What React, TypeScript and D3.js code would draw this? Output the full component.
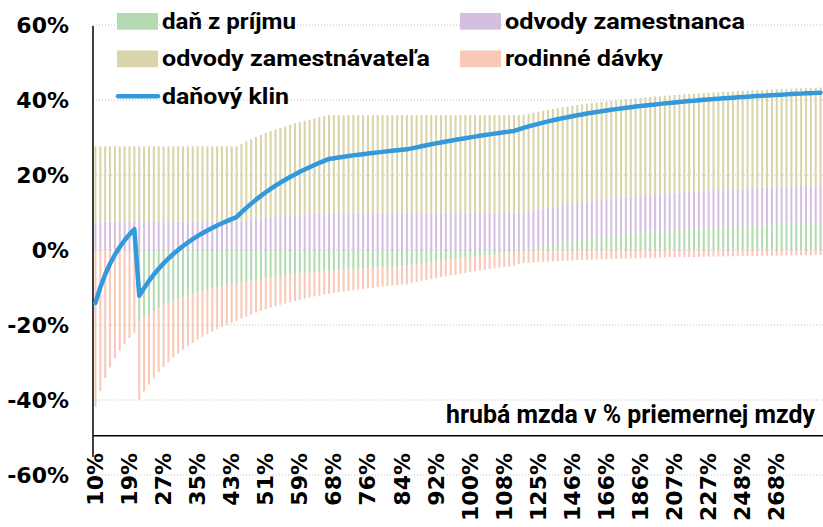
import React from "react";
import * as d3 from "d3";

// gross wage grid (EUR) and average wage used for the x categories
const wageEUR: number[] = [...d3.range(90, 960, 10), ...d3.range(975, 2550, 25)];
const averageWage = 858;
const categories: string[] = wageEUR.map((w) => Math.round((w / averageWage) * 100) + "%");
const xTickLabels: string[] = [
  "10%", "19%", "27%", "35%", "43%", "51%", "59%", "68%", "76%", "84%", "92%",
  "100%", "108%", "125%", "146%", "166%", "186%", "207%", "227%", "248%", "268%",
];
const tickEvery = 7;

// series values in % of total labour cost
const incomeTax: number[] = [
  0, 0, 0, 0, 0, 0, 0, 0, 0,
  -19.0, -18.0, -17.1, -16.29, -15.55, -14.87, -14.25, -13.68, -13.15, -12.67,
  -12.21, -11.79, -11.4, -11.03, -10.69, -10.36, -10.06, -9.77, -9.5, -9.24, -9.0,
  -8.72, -8.45, -8.2, -7.96, -7.74, -7.53, -7.33, -7.14, -6.96, -6.79,
  -6.62, -6.47, -6.32, -6.18, -6.04, -5.91, -5.79, -5.67,
  -5.56, -5.46, -5.37, -5.28, -5.19, -5.11, -5.03, -4.95, -4.87, -4.8,
  -4.73, -4.66, -4.59, -4.53, -4.46, -4.4, -4.34,
  -4.15, -3.93, -3.72, -3.51, -3.31, -3.12, -2.92, -2.74, -2.56, -2.38,
  -2.21, -2.04, -1.87, -1.71, -1.55, -1.4, -1.25, -1.1, -0.96, -0.81, -0.68, -0.54,
  -0.22, 0.1, 0.39, 0.67, 0.94, 1.19, 1.44, 1.67, 1.89, 2.11,
  2.31, 2.51, 2.7, 2.88, 3.06, 3.23, 3.39, 3.55, 3.7, 3.84,
  3.98, 4.12, 4.25, 4.38, 4.5, 4.62, 4.74, 4.85, 4.96, 5.07,
  5.17, 5.27, 5.37, 5.46, 5.55, 5.64, 5.73, 5.82,
  5.9, 5.98, 6.06, 6.13, 6.21, 6.28, 6.35, 6.42, 6.49, 6.55,
  6.62, 6.68, 6.74, 6.8, 6.86, 6.92, 6.98, 7.03, 7.09, 7.14,
  7.19, 7.24, 7.29, 7.34, 7.39,
];

const employeeContrib: number[] = [
  7.51, 7.51, 7.51, 7.51, 7.51, 7.51, 7.51, 7.51, 7.51, 7.51,
  7.51, 7.51, 7.51, 7.51, 7.51, 7.51, 7.51, 7.51, 7.51, 7.51,
  7.51, 7.51, 7.51, 7.51, 7.51, 7.51, 7.51, 7.51, 7.51, 7.51,
  7.71, 7.89, 8.07, 8.23, 8.39, 8.54, 8.68, 8.81, 8.93, 9.05,
  9.17, 9.27, 9.38, 9.48, 9.57, 9.66, 9.75, 9.83,
  9.91, 9.91, 9.91, 9.91, 9.91, 9.91, 9.91, 9.91, 9.91, 9.91,
  9.91, 9.91, 9.91, 9.91, 9.91, 9.91, 9.91, 9.91, 9.91, 9.91,
  9.91, 9.91, 9.91, 9.91, 9.91, 9.91, 9.91, 9.91, 9.91, 9.91,
  9.91, 9.91, 9.91, 9.91, 9.91, 9.91, 9.91, 9.91, 9.91, 9.91,
  9.91, 9.91, 9.91, 9.91, 9.91, 9.91, 9.91, 9.91, 9.91, 9.91,
  9.91, 9.91, 9.91, 9.91, 9.91, 9.91, 9.91, 9.91, 9.91, 9.91,
  9.91, 9.91, 9.91, 9.91, 9.91, 9.91, 9.91, 9.91, 9.91, 9.91,
  9.91, 9.91, 9.91, 9.91, 9.91, 9.91, 9.91, 9.91, 9.91, 9.91,
  9.91, 9.91, 9.91, 9.91, 9.91, 9.91, 9.91, 9.91, 9.91, 9.91,
  9.91, 9.91, 9.91, 9.91, 9.91, 9.91, 9.91, 9.91, 9.91, 9.91,
  9.91, 9.91,
];

const employerContrib: number[] = [
  20.13, 20.13, 20.13, 20.13, 20.13, 20.13, 20.13, 20.13, 20.13, 20.13,
  20.13, 20.13, 20.13, 20.13, 20.13, 20.13, 20.13, 20.13, 20.13, 20.13,
  20.13, 20.13, 20.13, 20.13, 20.13, 20.13, 20.13, 20.13, 20.13, 20.13,
  20.62, 21.07, 21.5, 21.91, 22.29, 22.66, 23.0, 23.32, 23.63, 23.93,
  24.2, 24.47, 24.73, 24.97, 25.2, 25.42, 25.64, 25.84,
  26.04, 26.04, 26.04, 26.04, 26.04, 26.04, 26.04, 26.04, 26.04, 26.04,
  26.04, 26.04, 26.04, 26.04, 26.04, 26.04, 26.04, 26.04, 26.04, 26.04,
  26.04, 26.04, 26.04, 26.04, 26.04, 26.04, 26.04, 26.04, 26.04, 26.04,
  26.04, 26.04, 26.04, 26.04, 26.04, 26.04, 26.04, 26.04, 26.04, 26.04,
  26.04, 26.04, 26.04, 26.04, 26.04, 26.04, 26.04, 26.04, 26.04, 26.04,
  26.04, 26.04, 26.04, 26.04, 26.04, 26.04, 26.04, 26.04, 26.04, 26.04,
  26.04, 26.04, 26.04, 26.04, 26.04, 26.04, 26.04, 26.04, 26.04, 26.04,
  26.04, 26.04, 26.04, 26.04, 26.04, 26.04, 26.04, 26.04, 26.04, 26.04,
  26.04, 26.04, 26.04, 26.04, 26.04, 26.04, 26.04, 26.04, 26.04, 26.04,
  26.04, 26.04, 26.04, 26.04, 26.04, 26.04, 26.04, 26.04, 26.04, 26.04,
  26.04, 26.04,
];

const familyBenefits: number[] = [
  -41.75, -37.57, -34.16, -31.31, -28.9, -26.84, -25.05, -23.48, -22.1, -20.87,
  -19.77, -18.79, -17.89, -17.08, -16.34, -15.66, -15.03, -14.45, -13.92, -13.42,
  -12.96, -12.52, -12.12, -11.74, -11.39, -11.05, -10.73, -10.44, -10.15, -9.89,
  -9.58, -9.28, -9.01, -8.75, -8.5, -8.27, -8.05, -7.84, -7.64, -7.46,
  -7.28, -7.11, -6.94, -6.79, -6.64, -6.5, -6.36, -6.23,
  -6.1, -6.0, -5.9, -5.8, -5.7, -5.61, -5.52, -5.44, -5.35, -5.27,
  -5.19, -5.12, -5.04, -4.97, -4.9, -4.83, -4.77, -4.7, -4.64, -4.58,
  -4.52, -4.46, -4.4, -4.35, -4.3, -4.24, -4.19, -4.14, -4.09, -4.05,
  -4.0, -3.95, -3.91, -3.87, -3.82, -3.78, -3.74, -3.7, -3.66,
  -3.57, -3.48, -3.39, -3.31, -3.24, -3.16, -3.09, -3.03, -2.96, -2.9,
  -2.84, -2.78, -2.73, -2.68, -2.63, -2.58, -2.53, -2.49, -2.44, -2.4,
  -2.36, -2.32, -2.28, -2.25, -2.21, -2.18, -2.14, -2.11, -2.08, -2.05,
  -2.02, -1.99, -1.96, -1.93, -1.91, -1.88, -1.86, -1.83, -1.81, -1.78,
  -1.76, -1.74, -1.72, -1.7, -1.68, -1.66, -1.64, -1.62, -1.6, -1.58,
  -1.56, -1.55, -1.53, -1.51, -1.5, -1.48, -1.47, -1.45, -1.44, -1.42,
  -1.41, -1.39, -1.38,
];

const yTicks: number[] = [-60, -40, -20, 0, 20, 40, 60];

const seriesKeys = ["tax", "employee", "employer", "benefits"];
const seriesColors: Record<string, string> = {
  tax: "#b3dab0",
  employee: "#d5bfe0",
  employer: "#d9d4aa",
  benefits: "#f9c9b8",
};
const lineColor = "#3399dd";

const legendItems = [
  { key: "tax", label: "daň z príjmu", col: 0, row: 0, len: 134 },
  { key: "employee", label: "odvody zamestnanca", col: 1, row: 0, len: 240 },
  { key: "employer", label: "odvody zamestnávateľa", col: 0, row: 1, len: 268 },
  { key: "benefits", label: "rodinné dávky", col: 1, row: 1, len: 158 },
  { key: "line", label: "daňový klin", col: 0, row: 2, len: 127 },
];

const axisTitle = "hrubá mzda v % priemernej mzdy";

export default function App() {
  const width = 823;
  const height = 527;
  const left = 93;
  const right = 823;
  const N = categories.length;

  const x = d3
    .scaleBand<number>()
    .domain(d3.range(N))
    .range([left, right])
    .paddingInner(0.58)
    .paddingOuter(0.29);
  const y = d3.scaleLinear().domain([-60, 60]).range([475, 25]);

  const rows = d3.range(N).map((i) => ({
    i,
    tax: incomeTax[i],
    employee: employeeContrib[i],
    employer: employerContrib[i],
    benefits: familyBenefits[i],
  }));
  const stacked = d3
    .stack<any>()
    .keys(seriesKeys)
    .offset(d3.stackOffsetDiverging)(rows);

  const wedge = rows.map((r) => r.tax + r.employee + r.employer + r.benefits);
  const cx = (i: number) => (x(i) as number) + x.bandwidth() / 2;
  const linePath = d3
    .line<number>()
    .x((_, i) => cx(i))
    .y((d) => y(d))(wedge) as string;

  const xAxisY = y(-49.5);
  const tickFont = "'DejaVu Sans', sans-serif";
  const textFont = "Roboto, 'Liberation Sans', sans-serif";

  return (
    <svg
      width={width}
      height={height}
      style={{ position: "absolute", left: 0, top: 0, background: "#fff" }}
    >
      {/* bars */}
      {stacked.map((s) => (
        <g key={s.key} fill={seriesColors[s.key]}>
          {s.map((d, i) => {
            const y0 = y(d[0]);
            const y1 = y(d[1]);
            return (
              <rect
                key={i}
                x={x(i)}
                width={x.bandwidth()}
                y={Math.min(y0, y1)}
                height={Math.abs(y0 - y1)}
              />
            );
          })}
        </g>
      ))}

      {/* grid */}
      {yTicks.map((t) => (
        <line
          key={t}
          x1={left}
          x2={right}
          y1={y(t)}
          y2={y(t)}
          stroke="#c4c4c4"
          strokeWidth={1}
          strokeDasharray="1,2"
        />
      ))}

      {/* y labels */}
      {yTicks.map((t) => (
        <text
          key={t}
          x={69}
          y={y(t)}
          textAnchor="end"
          dominantBaseline="central"
          fontFamily={tickFont}
          fontWeight="bold"
          fontSize={22}
          fill="#000"
        >
          {t + "%"}
        </text>
      ))}

      {/* axes */}
      <line x1={left} x2={left} y1={26} y2={457} stroke="#000" strokeWidth={1.5} />
      <line x1={left} x2={right} y1={xAxisY} y2={xAxisY} stroke="#000" strokeWidth={1.5} />

      {/* x labels */}
      {xTickLabels.map((lab, k) => (
        <text
          key={lab}
          transform={`translate(${cx(k * tickEvery)},453) rotate(-90)`}
          textAnchor="end"
          dominantBaseline="central"
          fontFamily={tickFont}
          fontWeight="bold"
          fontSize={22}
          fill="#000"
        >
          {lab}
        </text>
      ))}

      {/* line */}
      <path
        d={linePath}
        fill="none"
        stroke={lineColor}
        strokeWidth={4.5}
        strokeLinejoin="round"
        strokeLinecap="round"
      />

      {/* axis title */}
      <text
        x={446}
        y={423}
        fontFamily={textFont}
        fontWeight="bold"
        fontSize={26}
        textLength={369}
        lengthAdjust="spacingAndGlyphs"
        fill="#000"
      >
        {axisTitle}
      </text>

      {/* legend */}
      {legendItems.map((it) => {
        const px = it.col === 0 ? 117 : 460;
        const cy = 21.3 + it.row * 37.5;
        return (
          <g key={it.key}>
            {it.key === "line" ? (
              <line
                x1={px + 1}
                x2={px + 41}
                y1={cy}
                y2={cy}
                stroke={lineColor}
                strokeWidth={4.5}
                strokeLinecap="round"
              />
            ) : (
              <rect x={px} y={cy - 8.3} width={41} height={16.7} fill={seriesColors[it.key]} />
            )}
            <text
              x={px + 45}
              y={cy + 7.2}
              fontFamily={textFont}
              fontWeight="bold"
              fontSize={22}
              textLength={it.len}
              lengthAdjust="spacingAndGlyphs"
              fill="#000"
            >
              {it.label}
            </text>
          </g>
        );
      })}
    </svg>
  );
}
